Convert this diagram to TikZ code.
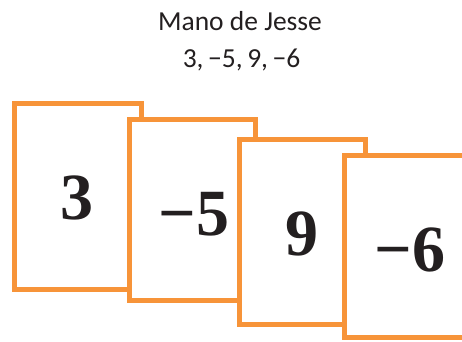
\documentclass[tikz,border=0pt]{standalone}
\usepackage{fontspec}
\setmainfont{Carlito}
\newfontfamily\cardfont{Liberation Serif}
\definecolor{cardorange}{RGB}{247,148,57}
\definecolor{numink}{RGB}{35,31,32}
\begin{document}
\begin{tikzpicture}[x=1pt,y=-1pt,
  card/.style={draw=cardorange,fill=white,line width=5pt,inner sep=0pt,outer sep=0pt},
  num/.style={font=\cardfont\bfseries\fontsize{66}{66}\selectfont,text=numink,inner sep=0pt},
  title/.style={font=\fontsize{27.5}{30}\selectfont,text=numink,inner sep=0pt,anchor=base}]
\useasboundingbox (0,0) rectangle (462,341);
\clip (0,0) rectangle (462,341);
\node[title] (t1) at (240,30) {Mano de Jesse};
\node[title] (t2) at (241.5,67) {3,\,−5,\,9,\,−6};
\node[card,minimum width=127pt,minimum height=185.5pt] (c1) at (78,196.25) {};
\node[num] (n1) at (77,198) {3};
\node[card,minimum width=126pt,minimum height=181pt] (c2) at (192.6,210.3) {};
\node[num] (n2) at (194,214.7) {−5};
\node[card,minimum width=126pt,minimum height=185pt] (c3) at (302.8,232.3) {};
\node[num] (n3) at (302,234) {9};
\node[card,minimum width=126pt,minimum height=182pt] (c4) at (407.2,246.3) {};
\node[num] (n4) at (410,250) {−6};
\end{tikzpicture}
\end{document}
